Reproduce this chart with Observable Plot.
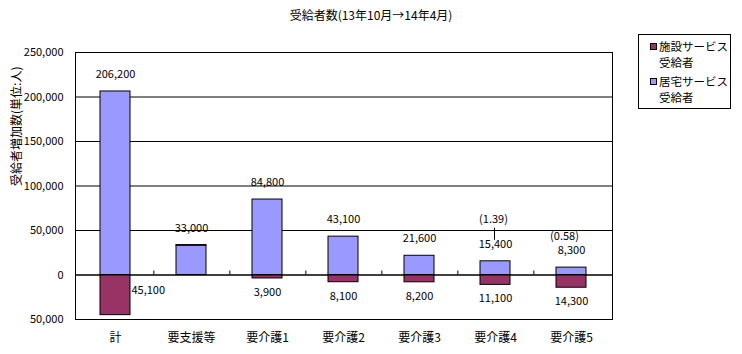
<!DOCTYPE html>
<html><head><meta charset="utf-8">
<script src="https://cdn.jsdelivr.net/npm/d3@7"></script>
<script src="https://cdn.jsdelivr.net/npm/@observablehq/plot@0.6"></script>
<style>
body{margin:0;background:#fff;font-family:"Noto Sans CJK JP",sans-serif;}
#wrap{position:relative;width:742px;height:354px;}
#title{position:absolute;top:7px;left:0;width:742px;text-align:center;font-size:12px;line-height:16px;}
#legend{position:absolute;left:638px;top:34px;width:93px;height:75px;border:1px solid #000;font-size:11.5px;box-sizing:border-box;}
.sw{position:absolute;left:11px;width:7px;height:7px;border:1px solid #000;box-sizing:border-box;}
.lt{position:absolute;left:20px;white-space:nowrap;line-height:16px;height:16px;}
svg text{font-family:"Noto Sans CJK JP",sans-serif;}
</style></head>
<body>
<div id="wrap">
<div id="chart"></div>
<div id="title"></div>
<div id="legend"></div>
</div>
<script>
const title = "受給者数(13年10月→14年4月)";
const yLabel = "受給者増加数(単位:人)";
const categories = ["計","要支援等","要介護1","要介護2","要介護3","要介護4","要介護5"];
const seriesNames = ["居宅サービス受給者","施設サービス受給者"];
const kyotaku = [206200, 33000, 84800, 43100, 21600, 15400, 8300];
const shisetsu = [-45100, 600, -3900, -8100, -8200, -11100, -14300];
const ratios = [null, null, null, null, null, "(1.39)", "(0.58)"];
const yTicks = [-50000, 0, 50000, 100000, 150000, 200000, 250000];
const colors = ["#9999FF", "#993366"];
const legendLines = [["施設サービス","受給者"],["居宅サービス","受給者"]];

document.getElementById("title").textContent = title;

const rows = [];
categories.forEach((c, i) => {
  rows.push({cat: c, series: seriesNames[0], value: kyotaku[i]});
  rows.push({cat: c, series: seriesNames[1], value: shisetsu[i]});
});
const fmt = d3.format(",");
const posLabels = categories.map((c, i) => ({cat: c, i, top: kyotaku[i] + Math.max(0, shisetsu[i]), text: fmt(kyotaku[i])}));
const negLabels = categories.map((c, i) => ({cat: c, i, v: shisetsu[i], text: fmt(Math.abs(shisetsu[i]))})).filter(d => d.v < 0);
const ratioLabels = posLabels.map((d, i) => ({...d, r: ratios[i]})).filter(d => d.r);

const W = 742, H = 354, mL = 75, mR = 130, mT = 52, mB = 35;
const pIn = 0.6, pOut = 0.3;
const step = (W - mL - mR) / (categories.length - pIn + 2 * pOut);

const chart = Plot.plot({
  width: W, height: H,
  marginLeft: mL, marginRight: mR, marginTop: mT, marginBottom: mB,
  style: {fontSize: "11px", fontFamily: "'Noto Sans CJK JP', sans-serif", color: "#000", background: "#fff"},
  x: {domain: categories, paddingInner: pIn, paddingOuter: pOut, label: null},
  y: {domain: [-50000, 250000], label: null},
  color: {domain: seriesNames, range: colors},
  marks: [
    Plot.gridY(yTicks, {stroke: "#000", strokeOpacity: 1}),
    Plot.barY(rows, Plot.stackY({x: "cat", y: "value", fill: "series", stroke: "#000", strokeWidth: 1, order: seriesNames})),
    Plot.ruleY([0], {stroke: "#000"}),
    Plot.ruleX(categories.slice(0, -1), {x: d => d, dx: step / 2, y1: 0, y2: 0, insetTop: -4, stroke: "#000"}),
    Plot.frame({stroke: "#000"}),
    Plot.axisY(yTicks, {tickSize: 0, tickPadding: 12, tickFormat: d => fmt(Math.abs(d)), fontSize: 11, label: null}),
    Plot.axisX({tickSize: 0, tickPadding: 14, fontSize: 12, label: null}),
    Plot.text(posLabels, {x: "cat", y: "top", text: "text", dy: -17, fontSize: 11}),
    Plot.text(negLabels.filter(d => d.i > 0), {x: "cat", y: "v", text: "text", dy: 14, fontSize: 11}),
    Plot.text(negLabels.filter(d => d.i === 0), {x: "cat", y: "v", text: "text", dx: 16, dy: -25, textAnchor: "start", fontSize: 11}),
    Plot.text(ratioLabels.filter(d => d.i === 5), {x: "cat", y: "top", text: "r", dy: -42, dx: -2, fontSize: 11}),
    Plot.ruleX(ratioLabels.filter(d => d.i === 5), {x: "cat", y1: "top", y2: "top", insetTop: -33, insetBottom: 21, dx: -1, stroke: "#000"}),
    Plot.text(ratioLabels.filter(d => d.i === 6), {x: "cat", y: "top", text: "r", dy: -31, dx: -7, fontSize: 11}),
    Plot.text([yLabel], {frameAnchor: "left", dx: -58, rotate: -90, text: d => d, fontSize: 12})
  ]
});
document.getElementById("chart").appendChild(chart);

const lg = document.getElementById("legend");
legendLines.forEach((lines, k) => {
  const base = k === 0 ? 3 : 38;
  const sw = document.createElement("div");
  sw.className = "sw";
  sw.style.top = (base + 5) + "px";
  sw.style.background = colors[1 - k];
  lg.appendChild(sw);
  lines.forEach((line, j) => {
    const t = document.createElement("div");
    t.className = "lt";
    t.style.top = (base + j * 16) + "px";
    t.textContent = line;
    lg.appendChild(t);
  });
});
</script>
</body></html>
